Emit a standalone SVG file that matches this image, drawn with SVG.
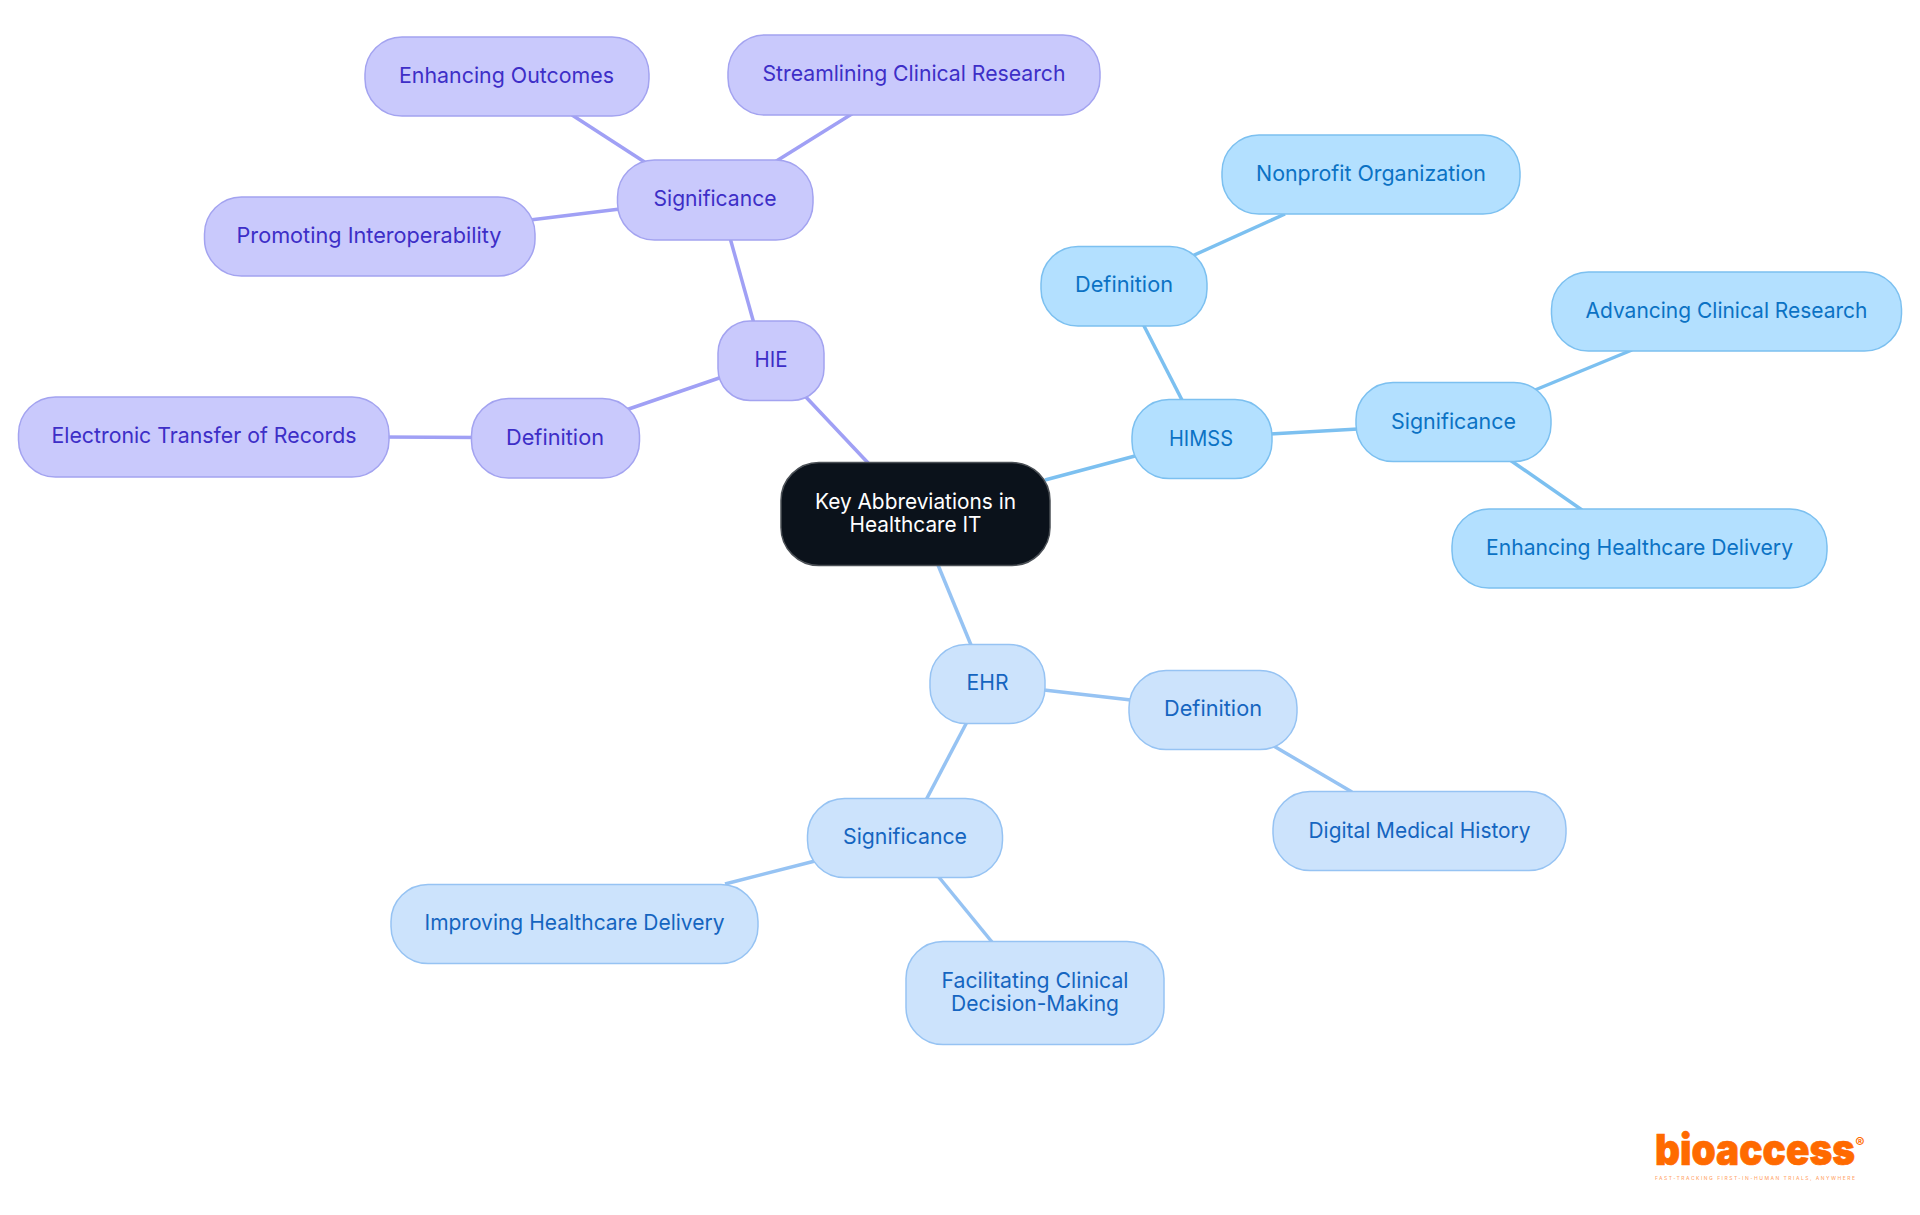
<svg xmlns="http://www.w3.org/2000/svg" width="1920" height="1215" viewBox="0 0 1920 1215">
<style>
text{font-family:Inter,"Noto Sans","Liberation Sans",sans-serif;font-size:22px;font-weight:400;text-anchor:middle}
rect{stroke-width:1.5}
line{stroke-width:3.5;fill:none}
.p rect{fill:#c9c9fc;stroke:#a3a3f0}.p text{fill:#3d2ec7}
.b rect{fill:#b3e0ff;stroke:#7cc0f0}.b text{fill:#0b72c4}
.l rect{fill:#cce3fc;stroke:#96c3f3}.l text{fill:#1565c0}
.lp{stroke:#a0a0f5}.lb{stroke:#7cc0f0}.ll{stroke:#96c3f3}
.logo{fill:#ff6a00}
</style>
<rect width="1920" height="1215" fill="#fff" style="stroke:none"/>
<g id="connectors">
<line class="lp" x1="870" y1="465" x2="804" y2="395"/>
<line class="lp" x1="760" y1="345" x2="725" y2="220"/>
<line class="lp" x1="725" y1="376" x2="620" y2="412"/>
<line class="lp" x1="480" y1="437.500" x2="380" y2="437"/>
<line class="lp" x1="620" y1="209" x2="530" y2="220"/>
<line class="lp" x1="660" y1="172" x2="572" y2="115"/>
<line class="lp" x1="770" y1="165" x2="855" y2="112"/>
<line class="lb" x1="1045" y1="480" x2="1135" y2="456"/>
<line class="lb" x1="1182" y1="400" x2="1142" y2="322"/>
<line class="lb" x1="1192" y1="256" x2="1285" y2="214"/>
<line class="lb" x1="1270" y1="434" x2="1358" y2="429"/>
<line class="lb" x1="1535" y1="390" x2="1632" y2="350"/>
<line class="lb" x1="1510" y1="460" x2="1582" y2="510"/>
<line class="ll" x1="938" y1="565" x2="971" y2="645"/>
<line class="ll" x1="1044" y1="690" x2="1131" y2="700"/>
<line class="ll" x1="1272" y1="745" x2="1352" y2="792"/>
<line class="ll" x1="968" y1="720" x2="926" y2="800"/>
<line class="ll" x1="815" y1="861" x2="725" y2="884"/>
<line class="ll" x1="938" y1="876" x2="992" y2="942"/>
</g>
<g id="root"><rect x="781" y="462.500" width="269" height="103" rx="38" fill="#0b121b" stroke="#4b5056"/><text x="915.500" y="509" fill="#fff" textLength="201" lengthAdjust="spacingAndGlyphs">Key Abbreviations in</text><text x="915.500" y="532" fill="#fff" textLength="132" lengthAdjust="spacingAndGlyphs">Healthcare IT</text></g>
<g id="hie" class="p"><rect x="718" y="321" width="106" height="79.500" rx="32"/><text x="771" y="367" textLength="33" lengthAdjust="spacingAndGlyphs">HIE</text></g>
<g id="hie-sig" class="p"><rect x="617.500" y="160" width="195.500" height="80" rx="37"/><text x="715" y="206" textLength="123" lengthAdjust="spacingAndGlyphs">Significance</text></g>
<g id="hie-out" class="p"><rect x="365" y="37" width="284" height="79" rx="37"/><text x="506.500" y="83" textLength="215" lengthAdjust="spacingAndGlyphs">Enhancing Outcomes</text></g>
<g id="hie-res" class="p"><rect x="728" y="35" width="372" height="80" rx="37"/><text x="914" y="81" textLength="303" lengthAdjust="spacingAndGlyphs">Streamlining Clinical Research</text></g>
<g id="hie-int" class="p"><rect x="204.500" y="197" width="330.500" height="79" rx="37"/><text x="369" y="243" textLength="265" lengthAdjust="spacingAndGlyphs">Promoting Interoperability</text></g>
<g id="hie-def" class="p"><rect x="471.500" y="398.500" width="168" height="79.500" rx="37"/><text x="555" y="444.500" textLength="98" lengthAdjust="spacingAndGlyphs">Definition</text></g>
<g id="hie-rec" class="p"><rect x="18.500" y="397" width="370.500" height="80" rx="37"/><text x="204" y="443" textLength="305" lengthAdjust="spacingAndGlyphs">Electronic Transfer of Records</text></g>
<g id="himss" class="b"><rect x="1132" y="399.500" width="140" height="79" rx="37"/><text x="1201" y="446" textLength="64" lengthAdjust="spacingAndGlyphs">HIMSS</text></g>
<g id="himss-def" class="b"><rect x="1041" y="246.500" width="166" height="79.500" rx="37"/><text x="1124" y="292" textLength="98" lengthAdjust="spacingAndGlyphs">Definition</text></g>
<g id="himss-non" class="b"><rect x="1222" y="135" width="298" height="79" rx="37"/><text x="1371" y="181" textLength="230" lengthAdjust="spacingAndGlyphs">Nonprofit Organization</text></g>
<g id="himss-sig" class="b"><rect x="1356" y="382.500" width="195" height="79" rx="37"/><text x="1453.500" y="429" textLength="125" lengthAdjust="spacingAndGlyphs">Significance</text></g>
<g id="himss-res" class="b"><rect x="1551.500" y="272" width="350" height="79" rx="37"/><text x="1726.500" y="318" textLength="282" lengthAdjust="spacingAndGlyphs">Advancing Clinical Research</text></g>
<g id="himss-del" class="b"><rect x="1452" y="509" width="375" height="79" rx="37"/><text x="1639.500" y="555" textLength="307" lengthAdjust="spacingAndGlyphs">Enhancing Healthcare Delivery</text></g>
<g id="ehr" class="l"><rect x="930" y="644.500" width="115" height="79" rx="36"/><text x="987.500" y="690" textLength="42" lengthAdjust="spacingAndGlyphs">EHR</text></g>
<g id="ehr-def" class="l"><rect x="1129" y="670.500" width="168" height="79" rx="37"/><text x="1213" y="716" textLength="98" lengthAdjust="spacingAndGlyphs">Definition</text></g>
<g id="ehr-med" class="l"><rect x="1273" y="791.500" width="293" height="79" rx="37"/><text x="1419.500" y="838" textLength="222" lengthAdjust="spacingAndGlyphs">Digital Medical History</text></g>
<g id="ehr-sig" class="l"><rect x="807.500" y="798.500" width="195" height="79" rx="37"/><text x="905" y="844" textLength="124" lengthAdjust="spacingAndGlyphs">Significance</text></g>
<g id="ehr-del" class="l"><rect x="391" y="884.500" width="367" height="79" rx="37"/><text x="574.500" y="930" textLength="300" lengthAdjust="spacingAndGlyphs">Improving Healthcare Delivery</text></g>
<g id="ehr-dec" class="l"><rect x="906" y="941.500" width="258" height="103" rx="37"/><text x="1035" y="988" textLength="187" lengthAdjust="spacingAndGlyphs">Facilitating Clinical</text><text x="1035" y="1011" textLength="168" lengthAdjust="spacingAndGlyphs">Decision-Making</text></g>
<g id="logo"><text class="logo" x="1755" y="1165" stroke="#ff6a00" stroke-width=".7" style="font-size:43px;font-weight:900" textLength="200" lengthAdjust="spacingAndGlyphs">bioaccess</text><text class="logo" x="1860" y="1148" style="font-size:14px;font-weight:600">®</text><text class="logo" x="1755" y="1180" fill-opacity=".6" style="font-size:5px;font-weight:500" textLength="200" lengthAdjust="spacing">FAST-TRACKING FIRST-IN-HUMAN TRIALS, ANYWHERE</text></g>
</svg>
